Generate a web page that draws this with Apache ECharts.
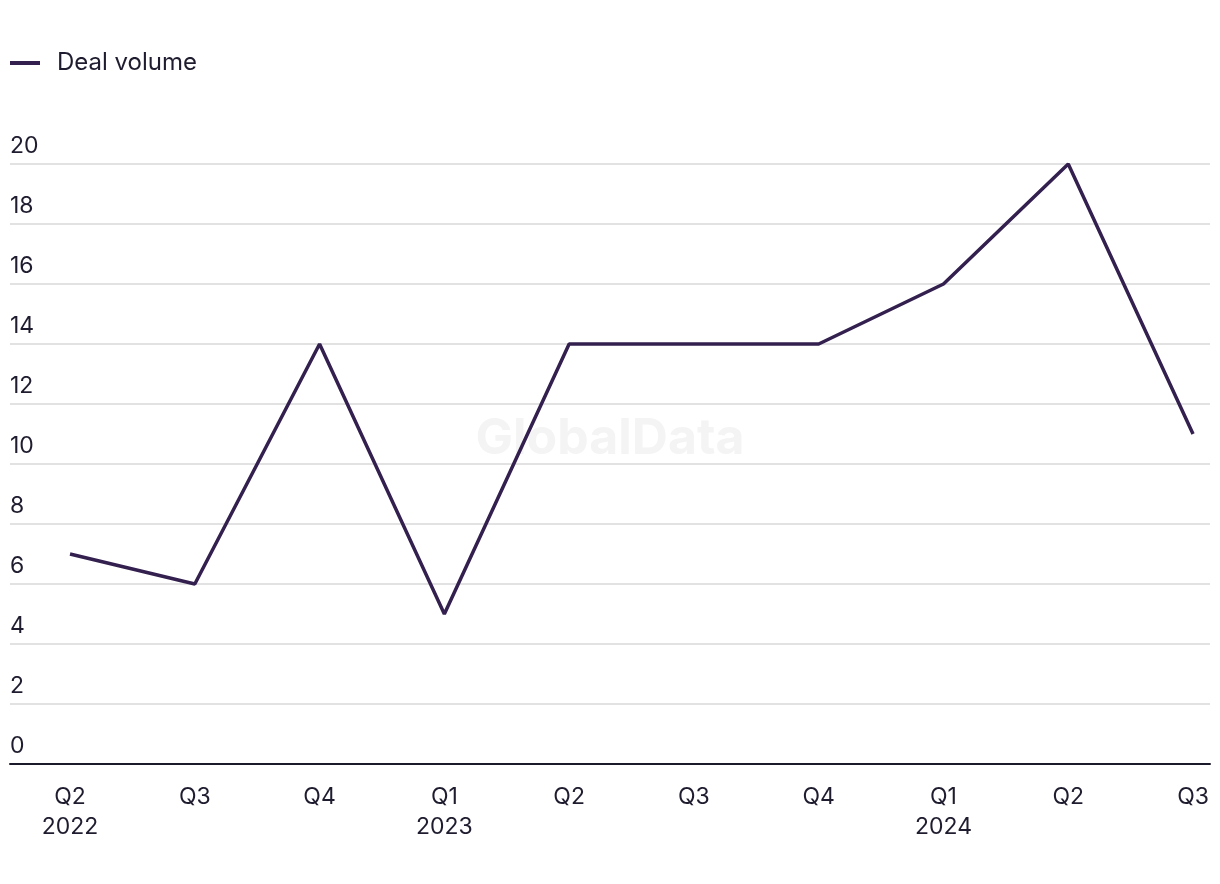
<!DOCTYPE html>
<html>
<head>
<meta charset="utf-8">
<script src="https://cdn.jsdelivr.net/npm/echarts@6/dist/echarts.min.js"></script>
<style>html,body{margin:0;padding:0;background:#fff}#c{width:1220px;height:884px}</style>
</head>
<body>
<div id="c"></div>
<script>
const quarters = ['Q2', 'Q3', 'Q4', 'Q1', 'Q2', 'Q3', 'Q4', 'Q1', 'Q2', 'Q3'];
const years = ['2022', '', '', '2023', '', '', '', '2024', '', ''];
const dealVolume = [7, 6, 14, 5, 14, 14, 14, 16, 20, 11];
const yTicks = [0, 2, 4, 6, 8, 10, 12, 14, 16, 18, 20];

const chart = echarts.init(document.getElementById('c'), null, {renderer: 'canvas'});
const textColor = '#1e1c2e';
const font = 'Inter, "Noto Sans", sans-serif';
const idx = quarters.map((q, i) => i);

chart.setOption({
  backgroundColor: '#ffffff',
  animation: false,
  textStyle: {fontFamily: font},
  graphic: [{
    type: 'text', left: 'center', top: 414, z: -10, silent: true,
    style: {text: 'GlobalData', fontSize: 50, fontWeight: 'bold', fontFamily: font, fill: '#f4f4f4'}
  }],
  legend: {
    left: 5, top: 46,
    itemWidth: 30, itemHeight: 4, itemGap: 20,
    icon: 'rect',
    textStyle: {fontSize: 24, color: textColor, fontFamily: font, padding: [0, 0, 0, 12]},
    data: ['Deal volume']
  },
  grid: {left: 10, right: 10, top: 164, bottom: 120, containLabel: false},
  xAxis: {
    type: 'value',
    min: -0.481,
    max: 9.136,
    splitLine: {show: false},
    axisLine: {show: true, onZero: false, lineStyle: {color: '#1a1a2a', width: 2}},
    axisTick: {show: false},
    axisLabel: {
      customValues: idx,
      margin: 18,
      fontSize: 23,
      lineHeight: 30,
      color: textColor,
      fontFamily: font,
      formatter: v => {
        const i = Math.round(v);
        return years[i] ? quarters[i] + '\n' + years[i] : quarters[i];
      },
      verticalAlign: 'top'
    }
  },
  yAxis: {
    type: 'value',
    min: 0, max: 20, interval: 2,
    axisLine: {show: false},
    axisTick: {show: false},
    splitLine: {show: true, lineStyle: {color: '#d9d9d9', width: 1.5}},
    axisLabel: {
      inside: true,
      margin: 0,
      fontSize: 23,
      color: textColor,
      fontFamily: font,
      verticalAlign: 'bottom',
      padding: [0, 0, 6, 0],
      formatter: v => yTicks.includes(v) ? String(v) : ''
    }
  },
  series: [{
    name: 'Deal volume',
    type: 'line',
    data: dealVolume.map((v, i) => [i, v]),
    symbol: 'none',
    lineStyle: {color: '#33204f', width: 3.5},
    itemStyle: {color: '#33204f'},
    z: 5
  }]
});
</script>
</body>
</html>
